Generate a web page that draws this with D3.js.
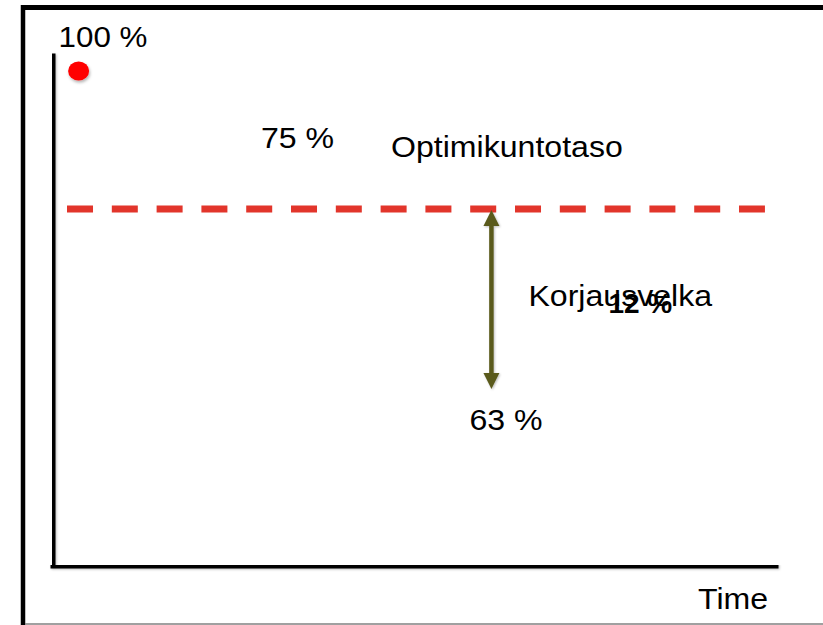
<!DOCTYPE html>
<html>
<head>
<meta charset="utf-8">
<script src="https://cdn.jsdelivr.net/npm/d3@7/dist/d3.min.js"></script>
<style>
  html, body { margin: 0; padding: 0; background: #fff; }
  svg { display: block; }
  text { font-family: "Liberation Sans", Arial, sans-serif; fill: #000; }
</style>
</head>
<body>
<svg id="chart" width="823" height="625"></svg>
<script>
// ---- data ----
const startLevel = 100;          // condition at start (red dot)
const optimumLevel = 75;         // optimal condition level (dashed line)
const currentLevel = 63;         // current condition (arrow end)
const repairDebt = optimumLevel - currentLevel; // 12 %
const levelValues = [currentLevel, optimumLevel, startLevel];
const timePoints = { start: 3.6, now: 60.5, lineStart: 2, lineEnd: 98.2 };
const labels = {
  start: "100 %",
  optimum: "75 %",
  optimumName: "Optimikuntotaso",
  debtName: "Korjausvelka",
  debt: repairDebt + " %",
  current: "63 %",
  xAxis: "Time"
};

// ---- layout ----
const svg = d3.select("#chart");
const x = d3.scaleLinear().domain([0, 100]).range([52.5, 778]);
// schematic (piecewise) vertical scale
const y = d3.scaleLinear().domain(levelValues).range([389, 209, 71]);
const axisTop = 53, axisBottom = 565.5;

// outer frame
svg.append("line").attr("x1", 21).attr("x2", 823).attr("y1", 7.5).attr("y2", 7.5)
  .attr("stroke", "#000").attr("stroke-width", 5);
svg.append("line").attr("x1", 23).attr("x2", 23).attr("y1", 5).attr("y2", 625)
  .attr("stroke", "#000").attr("stroke-width", 4.5);
svg.append("line").attr("x1", 25).attr("x2", 823).attr("y1", 624).attr("y2", 624)
  .attr("stroke", "#808080").attr("stroke-width", 1.5);

const defs = svg.append("defs");
const f = defs.append("filter").attr("id", "shadow").attr("x", "-50%").attr("y", "-50%")
  .attr("width", "200%").attr("height", "200%");
f.append("feDropShadow").attr("dx", 1).attr("dy", 2).attr("stdDeviation", 1.5)
  .attr("flood-color", "#000").attr("flood-opacity", 0.3);
const fs = defs.append("filter").attr("id", "lshadow").attr("filterUnits", "userSpaceOnUse")
  .attr("x", 0).attr("y", 0).attr("width", 823).attr("height", 625);
fs.append("feDropShadow").attr("dx", 1).attr("dy", 1).attr("stdDeviation", 1)
  .attr("flood-color", "#000").attr("flood-opacity", 0.25);

// axes (no ticks)
const yAxisScale = d3.scaleLinear().domain([0, 1]).range([axisBottom, axisTop]);
svg.append("g").attr("transform", `translate(${x.range()[0]},0)`)
  .call(d3.axisLeft(yAxisScale).tickValues([]).tickSizeOuter(0))
  .call(g => g.select(".domain").attr("stroke", "#000").attr("stroke-width", 5)
    .attr("filter", "url(#lshadow)"));
svg.append("g").attr("transform", `translate(0,${axisBottom})`)
  .call(d3.axisBottom(d3.scaleLinear().domain([0, 1]).range([50, x.range()[1]])).tickValues([]).tickSizeOuter(0))
  .call(g => g.select(".domain").attr("stroke", "#000").attr("stroke-width", 5)
    .attr("filter", "url(#lshadow)"));

// optimum dashed line
svg.append("line")
  .attr("x1", x(timePoints.lineStart)).attr("x2", x(timePoints.lineEnd))
  .attr("y1", y(optimumLevel)).attr("y2", y(optimumLevel))
  .attr("stroke", "#e2352b").attr("stroke-width", 7)
  .attr("stroke-dasharray", "26 18.8");

// start dot
svg.append("ellipse")
  .attr("cx", x(timePoints.start)).attr("cy", y(startLevel))
  .attr("rx", 10.5).attr("ry", 9.5)
  .attr("fill", "#ff0000").attr("filter", "url(#shadow)");

// repair-debt double arrow
const ax = x(timePoints.now);
const yTop = y(optimumLevel) + 1, yBot = y(currentLevel);
const arrowColor = "#5a5a1c";
const ag = svg.append("g").attr("filter", "url(#lshadow)");
ag.append("line").attr("x1", ax).attr("x2", ax).attr("y1", yTop + 14).attr("y2", yBot - 14)
  .attr("stroke", arrowColor).attr("stroke-width", 4.5);
ag.append("path")
  .attr("d", `M${ax},${yTop} L${ax - 8},${yTop + 16} L${ax + 8},${yTop + 16} Z`)
  .attr("fill", arrowColor);
ag.append("path")
  .attr("d", `M${ax},${yBot} L${ax - 8},${yBot - 16} L${ax + 8},${yBot - 16} Z`)
  .attr("fill", arrowColor);

// texts (slightly wide, like the reference)
function txt(s, px, py, opts = {}) {
  return svg.append("text")
    .attr("transform", `translate(${px},${py}) scale(${opts.sx || 1.07},1)`)
    .attr("font-size", opts.size || 30)
    .attr("font-weight", opts.weight || "normal")
    .text(s);
}
txt(labels.start, x(timePoints.start) - 20, y(startLevel) - 24, { size: 29, sx: 1.08 });
txt(labels.optimum, 261, y(optimumLevel) - 61);
txt(labels.optimumName, 391, y(optimumLevel) - 52);
txt(labels.debtName, ax + 37, 306);
txt(labels.debt, ax + 117, 313, { size: 28, weight: "bold", sx: 1.0 });
txt(labels.current, ax - 22, y(currentLevel) + 41);
txt(labels.xAxis, 698, 609);
</script>
</body>
</html>
